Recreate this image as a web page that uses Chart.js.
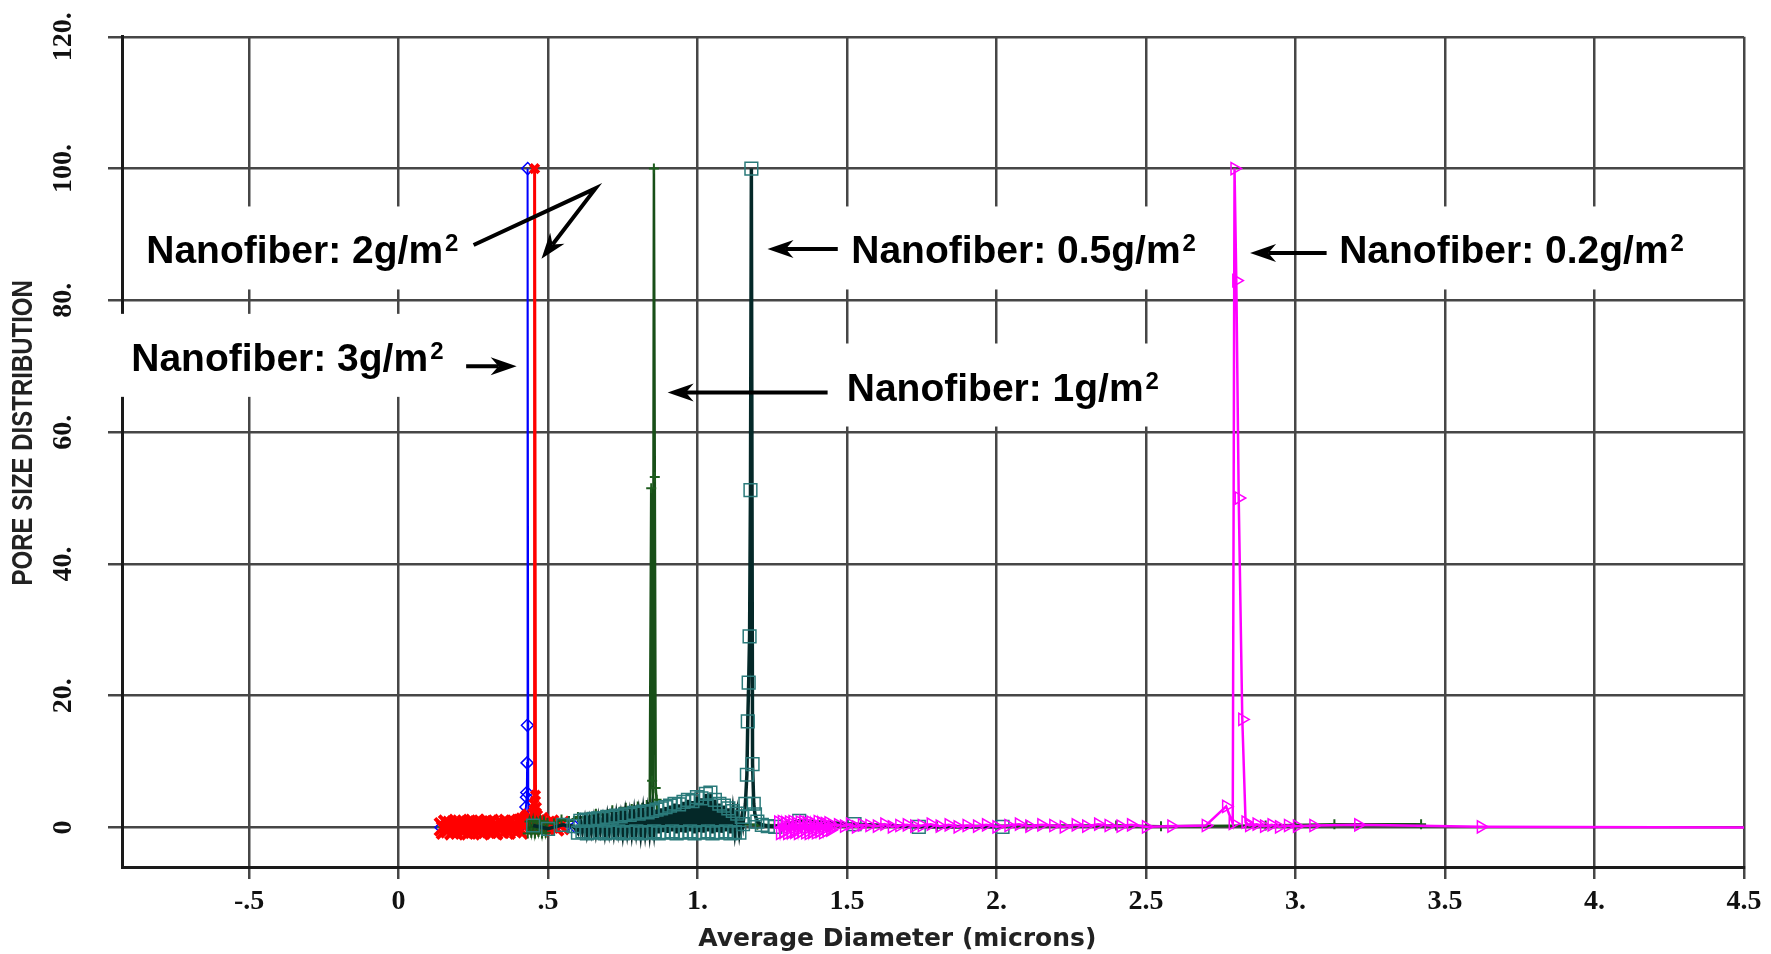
<!DOCTYPE html>
<html>
<head>
<meta charset="utf-8">
<title>Pore size distribution</title>
<script src="https://cdn.jsdelivr.net/npm/chart.js@4.4.0/dist/chart.umd.min.js"></script>
<style>
    html, body { margin: 0; padding: 0; background: #fff; }
    #wrap { width: 1771px; height: 954px; }
</style>
</head>
<body>
<div id="wrap"><canvas id="pore-chart"></canvas></div>
<script>
// axis ticks, printed the way the porometer software prints them
const xTickValues = [-0.5, 0, 0.5, 1, 1.5, 2, 2.5, 3, 3.5, 4, 4.5];
const xTickLabels = ['-.5', '0', '.5', '1.', '1.5', '2.', '2.5', '3.', '3.5', '4.', '4.5'];
const yTickValues = [0, 20, 40, 60, 80, 100, 120];
const yTickLabels = ['0', '20.', '40.', '60.', '80.', '100.', '120.'];

const xTitle = 'Average Diameter (microns)';
const yTitle = 'PORE SIZE DISTRIBUTION';

const seriesNames = ['Nanofiber: 0.2g/m2', 'Nanofiber: 0.5g/m2', 'Nanofiber: 1g/m2', 'Nanofiber: 2g/m2', 'Nanofiber: 3g/m2'];

// 3 g/m2
const blueX = [0.142, 0.300, 0.415, 0.422, 0.426, 0.428, 0.429, 0.430, 0.431, 0.432, 0.434, 0.440, 0.470, 0.500, 0.530, 0.560, 0.590];
const blueY = [0, 0.2, 0.5, 1.5, 3.1, 4.6, 5.3, 9.8, 15.5, 100, 0.6, 0.2, 0.4, 0.1, 0.3, 0.2, 0.1];

// 2 g/m2
const redX = [0.150, 0.157, 0.164, 0.171, 0.178, 0.185, 0.192, 0.199, 0.206, 0.213,
    0.220, 0.227, 0.234, 0.241, 0.248, 0.255, 0.262, 0.269, 0.276, 0.283,
    0.290, 0.297, 0.304, 0.311, 0.318, 0.325, 0.332, 0.339, 0.346, 0.353,
    0.360, 0.367, 0.374, 0.381, 0.388, 0.395, 0.402, 0.409, 0.416, 0.423,
    0.430, 0.437, 0.444, 0.449, 0.453, 0.455, 0.458, 0.461, 0.465, 0.470,
    0.478, 0.490, 0.505, 0.522, 0.540];
const redY = [0.1, -0.4, 0.5, -0.2, 0.3, -0.5, 0.4, 0.6, -0.3, 0.2,
    -0.4, 0.5, 0.1, -0.5, 0.3, 0.6, -0.2, 0.4, -0.4, 0.5,
    0.2, -0.3, 0.6, 0.0, -0.5, 0.4, 0.2, -0.3, 0.5, 0.3,
    -0.4, 0.6, 0.1, -0.2, 0.5, 0.3, -0.4, 0.6, 0.4, 0.8,
    0.7, 1.1, 1.4, 2.2, 3.6, 100, 4.9, 3.1, 1.9, 0.9,
    0.4, 0.2, 0.5, 0.1, 0.3];

// 1 g/m2
const greenX = [0.432, 0.438, 0.444, 0.450, 0.456, 0.462, 0.468, 0.474, 0.480, 0.486, 0.492, 0.498,
    0.520, 0.545, 0.570, 0.600, 0.630, 0.660, 0.690, 0.715, 0.740, 0.760, 0.780, 0.800, 0.815, 0.830, 0.840,
    0.845, 0.848, 0.851, 0.854, 0.857, 0.860, 0.863, 0.866, 0.870, 0.880, 0.900, 0.940, 0.990, 1.050,
    1.120, 1.200, 1.300, 1.500, 1.800, 2.100, 2.400, 2.550, 2.900, 3.130, 3.420];
const greenY = [-0.9, 0.9, -0.8, 1.0, -0.9, 0.8, -0.7, 1.0, -0.9, 0.9, -0.8, 0.7,
    0.6, 1.2, 1.0, 1.6, 1.5, 2.1, 1.9, 2.6, 2.4, 3.0, 2.8, 3.2, 3.0, 3.4, 3.0,
    51.5, 7.1, 3.7, 100, 53.2, 6.0, 4.2, 2.5, 1.6, 1.2, 1.0, 0.8, 0.9, 0.6,
    0.5, 0.4, 0.3, 0.3, 0.2, 0.3, 0.3, 0.2, 0.3, 0.5, 0.5];

// 0.5 g/m2
const tealX = [0.450, 0.500, 0.550, 0.585,
    0.600, 0.608, 0.615, 0.623, 0.630, 0.638, 0.645, 0.653, 0.660, 0.668,
    0.675, 0.683, 0.690, 0.698, 0.705, 0.713, 0.720, 0.728, 0.735, 0.743,
    0.750, 0.758, 0.765, 0.773, 0.780, 0.788, 0.795, 0.803, 0.810, 0.818,
    0.825, 0.833, 0.840, 0.848, 0.855, 0.863, 0.870, 0.878, 0.885, 0.893,
    0.900, 0.908, 0.915, 0.923, 0.930, 0.938, 0.945, 0.953, 0.960, 0.968,
    0.975, 0.983, 0.990, 0.998, 1.005, 1.013, 1.020, 1.028, 1.035, 1.043,
    1.050, 1.058, 1.065, 1.073, 1.080, 1.088, 1.095, 1.103, 1.110, 1.118,
    1.125, 1.133, 1.140, 1.148,
    1.152, 1.160, 1.165, 1.168, 1.171, 1.174, 1.177, 1.180, 1.184, 1.188,
    1.192, 1.200, 1.215, 1.235, 1.260, 1.340, 1.525, 1.740, 2.020];
const tealY = [0.3, -0.2, 0.4, 0.2,
    -0.8, 1.0, -0.6, 1.2, -0.9, 1.1, -0.7, 1.3, -0.8, 1.4,
    -0.6, 1.3, -0.9, 1.6, -0.7, 1.5, -0.8, 1.8, -0.6, 1.7,
    -0.9, 2.0, -0.7, 1.9, -0.8, 2.2, -0.6, 2.1, -0.9, 2.4,
    -0.7, 2.3, -0.8, 2.5, -0.6, 2.7, -0.9, 2.9, -0.7, 3.1,
    -0.8, 3.3, -0.6, 3.6, -0.9, 3.5, -0.7, 3.9, -0.8, 4.2,
    -0.6, 4.0, -0.9, 4.6, -0.7, 4.4, -0.8, 5.1, -0.6, 5.3,
    -0.9, 4.2, -0.7, 3.6, -0.8, 3.3, -0.6, 2.9, -0.9, 2.5,
    -0.7, 2.1, -0.8, 1.6,
    0.5, 3.6, 8.0, 16.1, 22.0, 29.0, 51.2, 100, 9.6, 3.6,
    2.0, 0.9, 0.4, 0.2, 0.1, 1.0, 0.5, 0.1, 0.1];

// 0.2 g/m2
const magentaX = [1.270, 1.276, 1.282, 1.288, 1.294, 1.300, 1.306, 1.312, 1.318, 1.324,
    1.330, 1.336, 1.342, 1.348, 1.354, 1.360, 1.366, 1.372, 1.378, 1.384,
    1.390, 1.396, 1.402, 1.408, 1.414, 1.420, 1.426, 1.432, 1.438, 1.444, 1.450,
    1.470, 1.490, 1.510, 1.530, 1.550, 1.575, 1.600, 1.625, 1.650, 1.675,
    1.700, 1.725, 1.750, 1.780, 1.810, 1.840, 1.870, 1.900, 1.935, 1.965,
    2.000, 2.040, 2.075, 2.110, 2.150, 2.190, 2.225, 2.265, 2.300, 2.340,
    2.375, 2.415, 2.450, 2.500, 2.585, 2.700, 2.768, 2.790, 2.796, 2.802,
    2.810, 2.822, 2.833, 2.845, 2.870, 2.895, 2.920, 2.945, 2.975, 3.005,
    3.060, 3.210, 3.620, 4.500];
const magentaY = [0.8, -0.9, 0.9, -0.7, 0.7, -0.9, 0.8, -0.8, 0.9, -0.7,
    0.6, -0.9, 0.8, -0.6, 0.9, -0.8, 0.7, -0.9, 0.8, -0.7,
    0.6, -0.8, 0.9, -0.6, 0.7, -0.8, 0.6, -0.5, 0.7, -0.4, 0.3,
    0.4, 0.2, 0.5, 0.1, 0.4, 0.3, 0.2, 0.5, 0.1, 0.3,
    0.4, 0.2, 0.3, 0.5, 0.2, 0.4, 0.1, 0.3, 0.2, 0.4,
    0.1, 0.3, 0.5, 0.2, 0.4, 0.3, 0.1, 0.4, 0.2, 0.5,
    0.3, 0.2, 0.4, 0.1, 0.2, 0.3, 3.2, 0.6, 100, 83.0,
    50.0, 16.4, 0.8, 0.3, 0.5, 0.2, 0.4, 0.1, 0.3, 0.2,
    0.3, 0.4, 0.1, 0.0];

// callouts written over the plot (position = start of text baseline, in data units)
const noteTexts = ['Nanofiber: 2g/m', 'Nanofiber: 3g/m', 'Nanofiber: 0.5g/m', 'Nanofiber: 0.2g/m', 'Nanofiber: 1g/m'];
const noteX = [-0.844, -0.894, 1.514, 3.146, 1.499];
const noteY = [85.6, 69.3, 85.6, 85.6, 64.8];
const noteArrows = [
    [[0.251, 88.4], [0.659, 97.0], [0.478, 86.3]],
    [[0.226, 70.0], [0.395, 70.0]],
    [[1.469, 87.8], [1.234, 87.8]],
    [[3.104, 87.2], [2.848, 87.2]],
    [[1.435, 66.0], [0.900, 66.0]]
];

const noteFont = 'bold 39px "Liberation Sans", Arial, sans-serif';
const supFont = 'bold 24px "Liberation Sans", Arial, sans-serif';

function toPoints(xs, ys) {
    return xs.map((v, i) => ({ x: v, y: ys[i] }));
}

function noteWidth(ctx, text) {
    ctx.font = noteFont;
    const w = ctx.measureText(text).width;
    ctx.font = supFont;
    return w + 2 + ctx.measureText('2').width;
}

function drawArrow(ctx, pts) {
    const n = pts.length;
    const [x1, y1] = pts[n - 2];
    const [x2, y2] = pts[n - 1];
    const ang = Math.atan2(y2 - y1, x2 - x1);
    const len = 26, half = 9;
    const c = Math.cos(ang), s = Math.sin(ang);

    ctx.beginPath();
    ctx.moveTo(pts[0][0], pts[0][1]);
    for (let i = 1; i < n - 1; i++) ctx.lineTo(pts[i][0], pts[i][1]);
    ctx.lineTo(x2 - c * len * 0.7, y2 - s * len * 0.7);
    ctx.stroke();

    ctx.beginPath();
    ctx.moveTo(x2, y2);
    ctx.lineTo(x2 - len * c + half * s, y2 - len * s - half * c);
    ctx.lineTo(x2 - len * 0.7 * c, y2 - len * 0.7 * s);
    ctx.lineTo(x2 - len * c - half * s, y2 - len * s + half * c);
    ctx.closePath();
    ctx.fill();
}

const notesPlugin = {
    id: 'notes',
    beforeDatasetsDraw(chart) {
        const { ctx, scales: { x, y } } = chart;
        ctx.save();
        ctx.fillStyle = '#ffffff';
        noteTexts.forEach((t, i) => {
            const left = x.getPixelForValue(noteX[i]);
            const base = y.getPixelForValue(noteY[i]);
            ctx.fillRect(left - 14, base - 57, noteWidth(ctx, t) + 28, 83);
        });
        ctx.restore();
    },
    afterDatasetsDraw(chart) {
        const { ctx, scales: { x, y } } = chart;
        ctx.save();
        ctx.fillStyle = '#000000';
        ctx.strokeStyle = '#000000';
        ctx.lineWidth = 4;
        ctx.textBaseline = 'alphabetic';
        noteTexts.forEach((t, i) => {
            const left = x.getPixelForValue(noteX[i]);
            const base = y.getPixelForValue(noteY[i]);
            ctx.font = noteFont;
            ctx.fillText(t, left, base);
            const w = ctx.measureText(t).width;
            ctx.font = supFont;
            ctx.fillText('2', left + w + 2, base - 12);

            const pts = noteArrows[i].map(p => [x.getPixelForValue(p[0]), y.getPixelForValue(p[1])]);
            drawArrow(ctx, pts);
        });
        ctx.restore();
    },
    // axis titles sit a little off-centre in the original, so they are placed by hand
    afterDraw(chart) {
        const { ctx, chartArea: a } = chart;
        ctx.save();
        ctx.fillStyle = '#222';
        ctx.textAlign = 'center';
        ctx.textBaseline = 'middle';
        ctx.font = 'bold 25px "DejaVu Sans", sans-serif';
        ctx.fillText(xTitle, a.left + a.width * 0.478, chart.height - 15);
        // the y title uses a narrow face: squeeze a regular bold one along the text
        ctx.translate(24, a.top + a.height * 0.477);
        ctx.rotate(-Math.PI / 2);
        ctx.scale(0.8, 1);
        ctx.font = 'bold 30px "Liberation Sans", Arial, sans-serif';
        ctx.fillText(yTitle, 0, 0);
        ctx.restore();
    }
};

const tickFont = { family: '"Liberation Serif", "Times New Roman", serif', weight: 'bold', size: 28 };
const gridColor = '#464646';

const poreChart = new Chart(document.getElementById('pore-chart'), {
    type: 'scatter',
    data: {
        datasets: [
            {
                label: seriesNames[0],
                data: toPoints(magentaX, magentaY),
                showLine: true,
                borderColor: '#ff00ff',
                borderWidth: 2.5,
                pointStyle: 'triangle',
                rotation: 90,
                pointRadius: ctx => (ctx.raw && ctx.raw.x >= 4.5 ? 0 : 7),
                pointBorderColor: '#ff00ff',
                pointBackgroundColor: 'rgba(0,0,0,0)',
                pointBorderWidth: 1.5
            },
            {
                label: seriesNames[1],
                data: toPoints(tealX, tealY),
                showLine: true,
                borderColor: '#042828',
                borderWidth: 3.5,
                pointStyle: 'rect',
                pointRadius: 9,
                pointBorderColor: '#2a7a7a',
                pointBackgroundColor: 'rgba(0,0,0,0)',
                pointBorderWidth: 1.5
            },
            {
                label: seriesNames[2],
                data: toPoints(greenX, greenY),
                showLine: true,
                borderColor: '#184f18',
                borderWidth: 2.5,
                pointStyle: 'cross',
                pointRadius: 5,
                pointBorderColor: '#1d5c1d',
                pointBorderWidth: 2
            },
            {
                label: seriesNames[3],
                data: toPoints(redX, redY),
                showLine: true,
                borderColor: '#ff0000',
                borderWidth: 3,
                pointStyle: 'crossRot',
                pointRadius: ctx => (ctx.raw && ctx.raw.y > 1.6 ? 6 : 12),
                pointBorderColor: '#ff0000',
                pointBorderWidth: 4
            },
            {
                label: seriesNames[4],
                data: toPoints(blueX, blueY),
                showLine: true,
                borderColor: '#0000ff',
                borderWidth: 2,
                pointStyle: 'rectRot',
                pointRadius: 6,
                pointBorderColor: '#0000ff',
                pointBackgroundColor: 'rgba(0,0,0,0)',
                pointBorderWidth: 1.5
            }
        ]
    },
    options: {
        responsive: true,
        maintainAspectRatio: false,
        animation: false,
        layout: { padding: { top: 30, right: 27, left: 0, bottom: 0 } },
        elements: { line: { tension: 0 } },
        plugins: {
            legend: { display: false },
            tooltip: { enabled: false }
        },
        scales: {
            x: {
                type: 'linear',
                min: -0.925,
                max: 4.5,
                afterBuildTicks: axis => { axis.ticks = xTickValues.map(v => ({ value: v })); },
                afterFit: axis => { axis.height = 87; },
                grid: { color: gridColor, lineWidth: 2.5, tickLength: 12 },
                border: { color: '#1a1a1a', width: 3 },
                ticks: {
                    autoSkip: false,
                    maxRotation: 0,
                    padding: 6,
                    color: '#111',
                    font: tickFont,
                    callback: (v, i) => xTickLabels[i]
                }
            },
            y: {
                type: 'linear',
                min: -6,
                max: 120,
                afterBuildTicks: axis => { axis.ticks = yTickValues.map(v => ({ value: v })); },
                afterFit: axis => { axis.width = 122; },
                grid: { color: gridColor, lineWidth: 2.5, tickLength: 14 },
                border: { color: '#1a1a1a', width: 3 },
                ticks: {
                    autoSkip: false,
                    minRotation: 90,
                    maxRotation: 90,
                    crossAlign: 'center',
                    padding: 20,
                    color: '#111',
                    font: tickFont,
                    callback: (v, i) => yTickLabels[i]
                }
            }
        }
    },
    plugins: [notesPlugin]
});
</script>
</body>
</html>
